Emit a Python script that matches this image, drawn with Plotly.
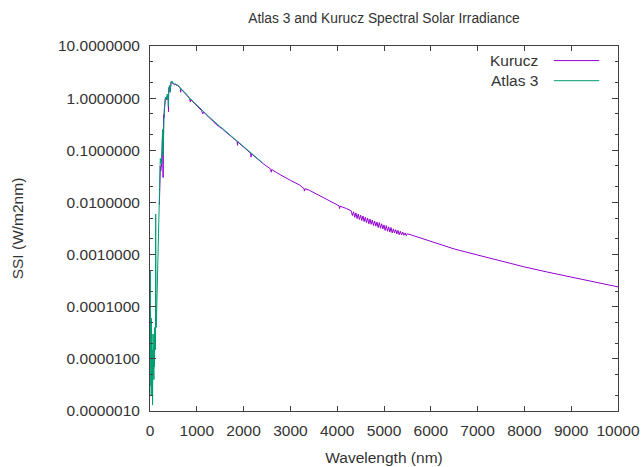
import plotly.graph_objects as go

# ---------------- data ----------------
kurucz_wavelength = [
    200, 210, 220, 230, 240, 250, 260, 270, 280, 285, 290, 300, 310, 320, 330,
    340, 350, 360, 370, 380, 390, 395, 400, 410, 420, 430, 440, 450, 460, 470,
    480, 490, 500, 520, 540, 560, 580, 600, 620, 650, 656, 660, 680, 700, 750,
    800, 850, 860, 870, 900, 950, 1000, 1050, 1100, 1130, 1150, 1200, 1250,
    1300, 1350, 1400, 1450, 1500, 1550, 1600, 1650, 1700, 1750, 1800, 1860,
    1870, 1880, 1900, 2000, 2100, 2150, 2160, 2170, 2200, 2300, 2400, 2500,
    2580, 2590, 2600, 2700, 2800, 3000, 3200, 3290, 3300, 3310, 3400, 3600,
    3800, 4000, 4040, 4050, 4060, 4200,
    4300, 4325, 4350, 4375, 4400, 4425, 4450, 4475, 4500, 4525, 4550, 4575,
    4600, 4625, 4650, 4675, 4700, 4725, 4750, 4775, 4800, 4825, 4850, 4875,
    4900, 4925, 4950, 4975, 5000, 5025, 5050, 5075, 5100, 5125, 5150, 5175,
    5200, 5225, 5250, 5275, 5300, 5325, 5350, 5375, 5400, 5425, 5450, 5475,
    5500, 5600, 5700, 5800, 5900, 6000, 6250, 6500, 7000, 7500, 8000, 8500,
    9000, 9500, 10000,
]
kurucz_ssi = [
    0.009, 0.032, 0.05, 0.04, 0.048, 0.055, 0.11, 0.24, 0.03, 0.14, 0.48, 0.42,
    0.62, 0.78, 1.0, 0.92, 0.98, 0.95, 1.1, 1.05, 0.85, 0.55, 1.55, 1.62, 1.7,
    1.3, 1.8, 2.0, 2.02, 1.95, 2.0, 1.9, 1.9, 1.8, 1.85, 1.76, 1.8, 1.72, 1.66,
    1.55, 1.3, 1.5, 1.44, 1.38, 1.25, 1.1, 0.98, 0.85, 0.94, 0.88, 0.79, 0.72,
    0.65, 0.58, 0.5, 0.54, 0.48, 0.44, 0.4, 0.36, 0.32, 0.3, 0.275, 0.255,
    0.232, 0.212, 0.195, 0.18, 0.163, 0.149, 0.125, 0.146, 0.138, 0.115,
    0.096, 0.088, 0.074, 0.086, 0.081, 0.067, 0.057, 0.049, 0.0435, 0.038,
    0.0428, 0.0375, 0.033, 0.0265, 0.0215, 0.0184, 0.0165, 0.0183, 0.0172,
    0.014, 0.0112, 0.0091, 0.0086, 0.0076, 0.0085, 0.0076,
    0.0069, 0.0056, 0.0066, 0.0052, 0.0063, 0.0049, 0.0060, 0.0047, 0.0057,
    0.0045, 0.0055, 0.0043, 0.0052, 0.0041, 0.0050, 0.0039, 0.0048, 0.0038,
    0.0046, 0.0036, 0.0044, 0.0035, 0.0042, 0.0033, 0.0041, 0.0032, 0.0039,
    0.0031, 0.0037, 0.0029, 0.0036, 0.0028, 0.0034, 0.0027, 0.0033, 0.0026,
    0.0031, 0.0026, 0.0030, 0.0025, 0.0029, 0.0024, 0.0028, 0.00238, 0.0027,
    0.00235, 0.0026, 0.0023, 0.0025, 0.00235, 0.0022, 0.00205, 0.0019,
    0.00178, 0.0015, 0.00128, 0.00098, 0.00075, 0.00058, 0.00046, 0.00037,
    0.000295, 0.00024,
]

atlas3_wavelength = [
    0.5, 2, 4, 6, 8, 10, 13, 16, 20, 25, 30, 33, 38, 42, 46, 50, 55, 60, 63,
    66, 70, 75, 80, 85, 90, 95, 100, 103, 108, 112, 117, 121, 124, 130, 135,
    140, 145, 150, 155, 160, 165, 170, 175, 180, 185, 190, 195, 200, 205, 210,
    215, 220, 225, 230, 240, 250, 255, 260, 265, 270, 275, 280, 285, 290, 295,
    300, 305, 310, 315, 320, 325, 330, 335, 340, 345, 350, 355, 360, 365, 370,
    375, 380, 385, 390, 393, 397, 400, 405, 410, 415, 420, 425, 430, 435, 440,
    445, 450, 455, 460, 465, 470, 475, 480, 485, 490, 500, 510, 520, 530, 540,
    550, 560, 570, 580, 590, 600, 620, 640, 656, 660, 680, 700, 720, 740, 760,
    780, 800, 820, 850, 860, 870, 900, 950, 1000, 1050, 1100, 1150, 1200, 1250,
    1300, 1350, 1400, 1450, 1500, 1550, 1600, 1650, 1700, 1750, 1800, 1850,
    1900, 1950, 2000, 2050, 2100, 2150, 2200, 2250, 2300, 2350, 2400,
]
atlas3_ssi = [
    2e-6, 5e-5, 3e-4, 5e-4, 8e-5, 2e-5, 4e-6, 1e-5, 3e-6, 8e-6, 6e-5, 5e-6,
    2e-6, 1.2e-5, 3e-6, 1.5e-5, 1.3e-6, 1e-5, 3e-5, 5e-6, 2e-5, 6e-6, 2.5e-5,
    4e-6, 3e-5, 7e-6, 4e-5, 1.5e-5, 1e-5, 2e-5, 1.5e-5, 6e-3, 3e-5, 1e-4, 4e-5,
    6e-5, 1e-4, 1.3e-4, 2.5e-4, 3e-4, 6e-4, 1.2e-3, 8e-4, 2.2e-3, 1.5e-3,
    3.5e-3, 5e-3, 8e-3, 0.015, 0.035, 0.06, 0.07, 0.05, 0.06, 0.055, 0.065,
    0.1, 0.13, 0.2, 0.25, 0.18, 0.08, 0.2, 0.55, 0.6, 0.5, 0.6, 0.7, 0.75,
    0.82, 0.85, 1.05, 1.0, 1.0, 0.95, 1.1, 1.05, 0.95, 1.15, 1.2, 1.0, 1.15,
    0.95, 1.1, 0.7, 0.8, 1.55, 1.6, 1.6, 1.75, 1.7, 1.65, 1.3, 1.75, 1.8, 1.95,
    2.05, 2.0, 2.08, 2.0, 2.05, 2.05, 2.08, 1.95, 1.98, 1.95, 1.9, 1.85, 1.9,
    1.88, 1.88, 1.82, 1.8, 1.82, 1.75, 1.76, 1.69, 1.62, 1.45, 1.54, 1.47,
    1.42, 1.36, 1.3, 1.25, 1.19, 1.12, 1.07, 1.0, 0.92, 0.96, 0.9, 0.81, 0.74,
    0.66, 0.59, 0.54, 0.49, 0.45, 0.41, 0.37, 0.335, 0.31, 0.283, 0.262, 0.238,
    0.218, 0.199, 0.183, 0.167, 0.154, 0.141, 0.128, 0.117, 0.106, 0.097,
    0.088, 0.081, 0.074, 0.068, 0.063, 0.058,
]

x_tick_values = [0, 1000, 2000, 3000, 4000, 5000, 6000, 7000, 8000, 9000, 10000]
x_tick_labels = ["0", "1000", "2000", "3000", "4000", "5000", "6000", "7000",
                 "8000", "9000", "10000"]
y_tick_values = [1e-6, 1e-5, 1e-4, 1e-3, 1e-2, 1e-1, 1, 10]
y_tick_labels = ["0.0000010", "0.0000100", "0.0001000", "0.0010000",
                 "0.0100000", "0.1000000", "1.0000000", "10.0000000"]

series_names = ["Kurucz", "Atlas 3"]
series_colors = ["#9400D3", "#009E73"]

# ---------------- figure ----------------
FONT = "Liberation Sans, Arial, sans-serif"
TXT = "#333333"
AXC = "#404040"

fig = go.Figure()
fig.add_trace(go.Scatter(x=kurucz_wavelength, y=kurucz_ssi, mode="lines",
                         name=series_names[0],
                         line=dict(color=series_colors[0], width=1),
                         showlegend=False))
fig.add_trace(go.Scatter(x=atlas3_wavelength, y=atlas3_ssi, mode="lines",
                         name=series_names[1],
                         line=dict(color=series_colors[1], width=1),
                         showlegend=False))

# gnuplot-style key: text on the left, line sample on the right
key_rows = [0.960, 0.905]
for name, color, yy in zip(series_names, series_colors, key_rows):
    fig.add_annotation(x=0.833, y=yy, xref="paper", yref="paper",
                       text=name, showarrow=False, xanchor="right",
                       yanchor="middle",
                       font=dict(family=FONT, size=15.5, color=TXT))
    fig.add_shape(type="line", xref="paper", yref="paper",
                  x0=0.863, x1=0.960, y0=yy, y1=yy,
                  line=dict(color=color, width=1))

fig.update_layout(
    width=642, height=467,
    margin=dict(l=150, r=24, t=46, b=56, autoexpand=False),
    paper_bgcolor="white", plot_bgcolor="white",
    font=dict(family=FONT, size=15.5, color=TXT),
    title=dict(text="Atlas 3 and Kurucz Spectral Solar Irradiance",
               x=0.5, xref="paper", xanchor="center",
               y=1 - 18 / 467, yref="container", yanchor="middle",
               font=dict(family=FONT, size=13.8, color=TXT)),
    showlegend=False,
)
fig.update_xaxes(
    range=[0, 10000], tickvals=x_tick_values, ticktext=x_tick_labels,
    showline=True, linecolor=AXC, linewidth=1, mirror="ticks",
    ticks="inside", ticklen=5, tickcolor=AXC, showgrid=False, zeroline=False,
    ticklabelstandoff=5, automargin=False,
    title=dict(text="Wavelength (nm)", standoff=14,
               font=dict(family=FONT, size=15.5, color=TXT)),
)
fig.update_yaxes(
    type="log", range=[-6, 1], tickvals=y_tick_values, ticktext=y_tick_labels,
    showline=True, linecolor=AXC, linewidth=1, mirror="ticks",
    ticks="inside", ticklen=6, tickcolor=AXC, showgrid=False, zeroline=False,
    ticklabelstandoff=6, automargin=False,
    minor=dict(ticks="inside", ticklen=3, dtick="D2", tickcolor=AXC,
               showgrid=False),
    title=dict(text="SSI (W/m2nm)", standoff=30,
               font=dict(family=FONT, size=15.5, color=TXT)),
)

fig.write_html("out.html")
